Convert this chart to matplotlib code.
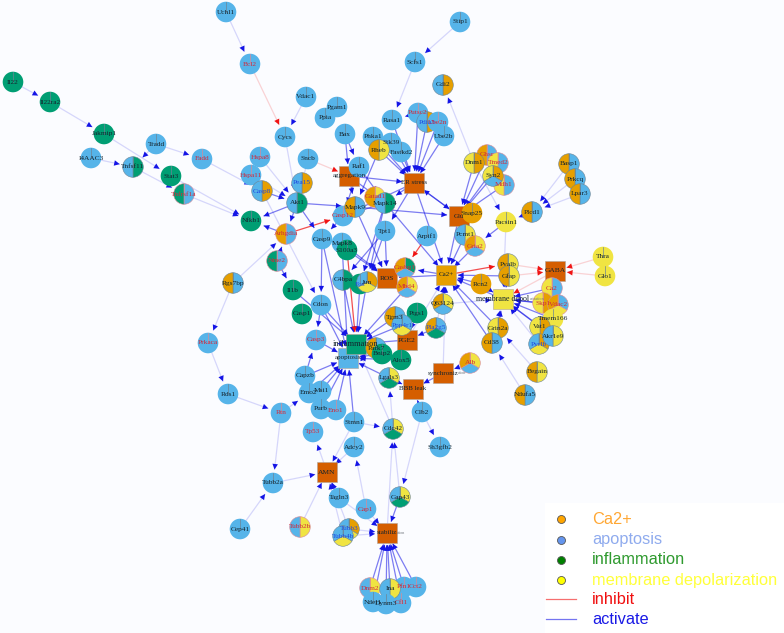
import matplotlib
matplotlib.use("Agg")
import matplotlib.pyplot as plt
import numpy as np
from matplotlib.patches import Wedge, Rectangle

## Data ##

# gene nodes, drawn in this order (picture pixels)
gene_pos = {
    "Uchl1": (226, 12), "Bcl2": (250, 64), "Il22": (13, 82), "Il22ra2": (50, 102),
    "Jakmip1": (104, 134), "Tradd": (156, 144), "Fadd": (202, 159), "I4AAC3": (91, 158),
    "Tnfsf11": (133, 167), "Stat3": (171, 176), "Tnfrsf1a": (184, 194), "Nfkb1": (251, 221),
    "Stip1": (460, 22), "Scfs1": (415, 62), "Gdi2": (443, 85), "Vdac1": (306, 97),
    "Pgam1": (337, 107), "Ppia": (325, 118), "Bax": (345, 134), "Cycs": (285, 137),
    "Sncb": (308, 159), "Hspa8": (260, 157), "Hspa11": (251, 175), "Casp8": (262, 191),
    "Pea15": (302, 183), "Akt1": (297, 203), "Arhgdia": (286, 234), "Rasa1": (392, 120),
    "Putsc2": (418, 113), "Pdia3": (427, 122), "Ube2n": (438, 122), "Ube2b": (444, 136),
    "Phka1": (373, 137), "Stk39": (391, 143), "Fastkd2": (401, 152), "Rheb": (379, 150),
    "Raf1": (359, 167), "Casp12": (343, 216), "Gatad1": (375, 197), "Mapk14": (385, 203),
    "Mapk9": (355, 207), "Casp9": (322, 239), "Mapk8": (342, 243), "S100a3": (347, 250),
    "Tpt1": (385, 231), "Arpif1": (427, 236), "Ghsr": (487, 155), "Tmed2": (498, 163),
    "Dnm1": (474, 163), "Mdh1": (504, 185), "Syn2": (493, 176), "Snap25": (472, 213),
    "Pacsin1": (506, 222), "Plcd1": (532, 212), "Basp1": (569, 164), "Prkcq": (575, 179),
    "Lpar3": (580, 194), "Pcmt1": (465, 235), "Gria2": (475, 246), "Thra": (603, 257),
    "Glo1": (605, 276), "Pvalb": (508, 264), "Gfap": (509, 276), "Rcn2": (481, 284),
    "Q63124": (443, 304), "Ca2": (552, 288), "Skp1": (543, 303), "Vdac2": (558, 305),
    "Tmem166": (553, 319), "Vat1": (540, 327), "Pvrlb": (539, 344), "Akr1e9": (553, 336),
    "Grin2a": (498, 328), "Cd38": (492, 343), "Alb": (470, 363), "Begain": (537, 372),
    "Ndufa5": (525, 395), "Pla2g5": (436, 328), "C4bpa": (343, 280), "Fos": (360, 284),
    "Jun": (367, 282), "Casbg1": (405, 268), "Mbd4": (407, 287), "Ptgs1": (417, 313),
    "Tgm3": (395, 317), "Ppp4r1": (402, 325), "Nme2": (277, 261), "Rgs7bp": (233, 283),
    "Il1b": (293, 290), "Cdon": (321, 305), "Casp1": (302, 314), "Casp3": (316, 340),
    "Prkaca": (208, 343), "Rds1": (228, 394), "Rtn": (281, 413), "Capzb": (305, 376),
    "Emo2": (309, 393), "Eno1": (336, 410), "Purb": (321, 409), "Msi1": (321, 391),
    "Tp53": (313, 432), "Stmn1": (354, 422), "Adcy2": (354, 447), "Park7": (376, 348),
    "Bnip2": (382, 354), "Alox5": (401, 360), "Lgals3": (389, 378), "Clb2": (422, 412),
    "Cdc42": (393, 429), "Sh3gfb2": (440, 447), "Tubb2a": (273, 483), "Cep41": (240, 529),
    "Tubb2b": (300, 527), "Tagln3": (339, 498), "Cap1": (366, 509), "Gap43": (400, 497),
    "Tubb3": (349, 529), "Tubb4b": (343, 536), "Cct2": (416, 587), "Pfn1": (404, 587),
    "Dnm2": (370, 588), "Cfl1": (401, 603), "Ina": (390, 589), "Ndel1": (373, 602),
    "Dynm3": (386, 604),
}

# process nodes
process_pos = {
    "aggregation": (349, 176), "ER stress": (414, 183), "Glu": (459, 216), "Ca2+": (446, 275),
    "ROS": (387, 278), "membrane depol": (503, 299), "GABA": (555, 271), "PGE2": (407, 340),
    "apoptosis": (348, 358), "inflammation": (356, 344), "synchroniz": (443, 373),
    "BBB leak": (413, 389), "AMN": (327, 472), "stabiliz": (387, 533),
}
process_part = {"Ca2+": "o", "membrane depol": "y", "apoptosis": "b", "inflammation": "g"}
process_tail = {"membrane depol": "arization", "synchroniz": "ation", "stabiliz": "ation"}
process_font = {"membrane depol": 5.8, "inflammation": 6.0, "AMN": 5.4, "ROS": 5.4, "PGE2": 5.4, "GABA": 5.4}

# pie parts clockwise from the top, plain apoptosis when not listed
gene_parts = {
    "Il22": "g", "Il22ra2": "g", "Jakmip1": "g", "Stat3": "g", "Nfkb1": "g", "S100a3": "g",
    "Tnfsf11": "gb", "Tnfrsf1a": "bg", "Nme2": "bg", "Akt1": "gb", "Arhgdia": "bo",
    "Casp8": "ob", "Pea15": "ob", "Gdi2": "ob", "Rheb": "yo", "Gatad1": "yo", "Mapk14": "gb",
    "Mapk9": "bo", "Pdia3": "ob", "Dnm1": "oy", "Ghsr": "bo", "Tmed2": "by", "Syn2": "oby",
    "Mdh1": "by", "Snap25": "o", "Pacsin1": "y", "Plcd1": "bo", "Basp1": "bo", "Prkcq": "bo",
    "Lpar3": "bo", "Pcmt1": "yb", "Gria2": "ybo", "Thra": "y", "Glo1": "y", "Pvalb": "yo",
    "Gfap": "yo", "Rcn2": "o", "Q63124": "ybo", "Ca2": "by", "Skp1": "oy", "Vdac2": "byo",
    "Tmem166": "y", "Vat1": "oy", "Pvrlb": "oyb", "Akr1e9": "yb", "Grin2a": "oy", "Cd38": "bo",
    "Alb": "ybo", "Begain": "yo", "Ndufa5": "bo", "Pla2g5": "bgo", "C4bpa": "gb", "Fos": "g",
    "Jun": "oyb", "Casbg1": "gbo", "Mbd4": "ybo", "Ptgs1": "g", "Tgm3": "bo", "Ppp4r1": "byb",
    "Rgs7bp": "bo", "Il1b": "g", "Casp1": "g", "Park7": "bo", "Bnip2": "g", "Alox5": "g",
    "Lgals3": "ygb", "Cdc42": "ygb", "Tubb2b": "yb", "Gap43": "ygb", "Tubb3": "oyb",
    "Tubb4b": "byb", "Dnm2": "yb", "Ina": "yb",
}

red_labels = ["Bcl2", "Fadd", "Tnfrsf1a", "Hspa8", "Hspa11", "Arhgdia", "Putsc2", "Ube2n",
              "Casp12", "Gatad1", "Ghsr", "Tmed2", "Mdh1", "Gria2", "Ca2", "Skp1", "Vdac2",
              "Alb", "Casbg1", "Mbd4", "Nme2", "Casp3", "Prkaca", "Rtn", "Eno1", "Tp53",
              "Tubb2b", "Cap1", "Dnm2", "Pfn1", "Cfl1", "Cct2"]
blue_labels = ["Casp8", "Pea15", "Pdia3", "Pvrlb", "Fos", "Ppp4r1", "Pla2g5", "Tubb3", "Tubb4b"]

strong_edges = [
    ("Akt1", "Nfkb1"), ("Arhgdia", "Nfkb1"), ("Pea15", "Akt1"), ("Casp8", "Akt1"), ("Akt1", "Arhgdia"),
    ("Nme2", "Arhgdia"), ("Nme2", "Il1b"), ("Il1b", "inflammation"), ("Cdon", "inflammation"),
    ("Casp9", "Cdon"), ("Casp12", "Casp9"), ("Akt1", "Casp9"), ("Akt1", "Mapk9"), ("Casp9", "apoptosis"),
    ("Mapk8", "apoptosis"), ("Mapk9", "Casp12"), ("Mapk14", "Casp12"), ("Mapk9", "Glu"),
    ("Bax", "aggregation"), ("Raf1", "aggregation"), ("Bax", "Raf1"), ("Phka1", "ER stress"),
    ("Stk39", "ER stress"), ("Fastkd2", "ER stress"), ("Rasa1", "ER stress"), ("Rheb", "ER stress"),
    ("Putsc2", "ER stress"), ("Pdia3", "ER stress"), ("Ube2n", "ER stress"), ("Ube2b", "ER stress"),
    ("Raf1", "Mapk14"), ("aggregation", "ER stress"), ("aggregation", "Mapk14"), ("aggregation", "Mapk9"),
    ("ER stress", "Glu"), ("Glu", "ER stress"), ("ER stress", "Tpt1"), ("ER stress", "Mapk14"),
    ("ER stress", "Casp12"), ("Rheb", "Mapk9"), ("Raf1", "Casp12"), ("Tpt1", "Jun"), ("Tpt1", "C4bpa"),
    ("S100a3", "ROS"), ("Ca2+", "ROS"), ("Ca2+", "Casbg1"), ("Glu", "Ca2+"), ("Gria2", "Ca2+"),
    ("Pcmt1", "Ca2+"), ("Gria2", "Glu"), ("Dnm1", "Glu"), ("Ghsr", "Glu"), ("Tmed2", "Glu"),
    ("Syn2", "Glu"), ("Mdh1", "Glu"), ("Snap25", "Glu"), ("Pacsin1", "Gria2"), ("membrane depol", "Ca2+"),
    ("Cd38", "Ca2+"), ("Grin2a", "Ca2+"), ("Grin2a", "membrane depol"), ("Rcn2", "Ca2+"),
    ("Rcn2", "membrane depol"), ("Gfap", "membrane depol"), ("Gfap", "Ca2+"), ("Pvalb", "membrane depol"),
    ("Ca2", "membrane depol"), ("Skp1", "membrane depol"), ("Vdac2", "membrane depol"),
    ("Tmem166", "membrane depol"), ("Vat1", "membrane depol"), ("Akr1e9", "membrane depol"),
    ("Q63124", "Ca2+"), ("Ptgs1", "PGE2"), ("Tgm3", "inflammation"), ("Ppp4r1", "inflammation"),
    ("Pla2g5", "PGE2"), ("Mbd4", "inflammation"), ("Jun", "inflammation"), ("Fos", "inflammation"),
    ("C4bpa", "inflammation"), ("Mapk8", "ROS"), ("ROS", "Casbg1"), ("Mapk14", "Fos"), ("Mapk14", "Jun"),
    ("Cdon", "apoptosis"), ("Casp3", "apoptosis"), ("Capzb", "apoptosis"), ("Emo2", "apoptosis"),
    ("Msi1", "apoptosis"), ("Purb", "apoptosis"), ("Eno1", "apoptosis"), ("Stmn1", "apoptosis"),
    ("Park7", "apoptosis"), ("Bnip2", "apoptosis"), ("Alox5", "apoptosis"), ("Lgals3", "apoptosis"),
    ("Lgals3", "BBB leak"), ("synchroniz", "BBB leak"), ("Clb2", "BBB leak"), ("Alox5", "Lgals3"),
    ("Capzb", "Casp3"), ("PGE2", "inflammation"), ("Cdon", "Casp3"), ("Tagln3", "AMN"),
    ("Cct2", "stabiliz"), ("Pfn1", "stabiliz"), ("Cfl1", "stabiliz"), ("Ina", "stabiliz"),
    ("Dnm2", "stabiliz"), ("Ndel1", "stabiliz"), ("Dynm3", "stabiliz"), ("Gap43", "stabiliz"),
    ("Mapk14", "Ca2+"), ("Tpt1", "ROS"), ("Mapk9", "ROS"), ("ER stress", "Ca2+"),
]

faint_edges = [
    ("Uchl1", "Bcl2"), ("Il22", "Il22ra2"), ("Il22ra2", "Jakmip1"), ("Jakmip1", "Stat3"),
    ("Tradd", "Tnfsf11"), ("Tradd", "Fadd"), ("I4AAC3", "Tnfsf11"), ("Tnfsf11", "Tnfrsf1a"),
    ("Stat3", "Nfkb1"), ("Tnfrsf1a", "Nfkb1"), ("Fadd", "Casp8"), ("Hspa8", "Akt1"), ("Hspa11", "Akt1"),
    ("Vdac1", "Cycs"), ("Cycs", "Akt1"), ("Pgam1", "Ppia"), ("Rgs7bp", "Arhgdia"), ("Rgs7bp", "Prkaca"),
    ("Prkaca", "Rds1"), ("Rds1", "Rtn"), ("Rtn", "Emo2"), ("Rtn", "Tubb2a"), ("Stip1", "Scfs1"),
    ("Scfs1", "Rasa1"), ("Putsc2", "Rasa1"), ("Dnm1", "Gdi2"), ("Dnm1", "Pacsin1"), ("Plcd1", "Pacsin1"),
    ("Basp1", "Plcd1"), ("Prkcq", "Plcd1"), ("Lpar3", "Plcd1"), ("Pacsin1", "membrane depol"),
    ("Cd38", "membrane depol"), ("Begain", "Grin2a"), ("Ndufa5", "Cd38"), ("Q63124", "membrane depol"),
    ("Alb", "synchroniz"), ("synchroniz", "Ca2+"), ("Pvrlb", "membrane depol"), ("Clb2", "Sh3gfb2"),
    ("Clb2", "Gap43"), ("Cdc42", "inflammation"), ("Cdc42", "Lgals3"), ("Tubb2a", "AMN"),
    ("Cep41", "Tubb2a"), ("Tubb2b", "AMN"), ("Adcy2", "AMN"), ("Stmn1", "AMN"), ("AMN", "Tp53"),
    ("Cap1", "Adcy2"), ("Cap1", "stabiliz"), ("Tagln3", "stabiliz"), ("Tubb3", "stabiliz"),
    ("Tubb4b", "stabiliz"), ("Tubb3", "AMN"), ("Tubb4b", "AMN"), ("Gap43", "Cdc42"),
    ("stabiliz", "Cdc42"), ("Stmn1", "Cdc42"), ("Casp8", "Cdon"), ("Sncb", "Akt1"),
    ("Pla2g5", "Ca2+"), ("PGE2", "Ca2+"),
]

inhibit_strong = [("Arhgdia", "Casp12"), ("Arpif1", "Casbg1"), ("Ca2+", "Pvalb"), ("S100a3", "inflammation")]
inhibit_faint = [("Bcl2", "Cycs"), ("Sncb", "aggregation"), ("Thra", "GABA"), ("Glo1", "GABA"),
                 ("Pvalb", "GABA"), ("Gfap", "GABA"), ("Ca2", "GABA"), ("GABA", "membrane depol")]

legend_labels = ["Ca2+", "apoptosis", "inflammation", "membrane depolarization"]
legend_dots = ["#ffa500", "#6495ed", "#008000", "#ffff00"]
legend_text = ["#ffa733", "#8fabee", "#2f9a2f", "#ffff3a"]

## Style ##

PART_COLORS = {"b": "#56B4E9", "o": "#E69F00", "g": "#009E73", "y": "#F0E442"}
SQUARE_COLOR = "#D55E00"
RADIUS = 10.3
BLUE = "#1414e6"
RED = "#f01414"
LABEL_COLORS = {"k": "#14242e", "r": "#d02a3c", "u": "#1f4ae0"}

## Drawing ##

def position(name):
    return np.array(gene_pos.get(name, process_pos.get(name)), dtype=float)

def draw_edge(ax, src, dst, color, alpha, lw):
    a, b = position(src), position(dst)
    d = (b - a) / np.linalg.norm(b - a)
    gap = 12.0 if dst in process_pos else 13.5
    tip = b - d * gap
    ax.plot([a[0], tip[0]], [a[1], tip[1]], color=color, alpha=alpha, lw=lw, zorder=1, solid_capstyle="butt")
    ax.annotate("", xy=tip, xytext=tip - d * 5,
                arrowprops=dict(arrowstyle="-|>,head_length=0.45,head_width=0.22", color=color,
                                lw=0, shrinkA=0, shrinkB=0, mutation_scale=9), zorder=2)

def draw_gene(ax, name, z):
    x, y = gene_pos[name]
    parts = gene_parts.get(name, "b")
    step = 360.0 / len(parts)
    ring = "#d88a98" if name in red_labels else "#6d8494"
    # inverted y axis, so the angles run clockwise on screen
    for i, p in enumerate(parts):
        ax.add_patch(Wedge((x, y), RADIUS, -90 + i * step, -90 + (i + 1) * step, facecolor=PART_COLORS[p],
                           edgecolor=ring if len(parts) > 1 else "none", lw=0.4, zorder=z))
    ax.plot([x, x], [y, y - RADIUS], color=ring, lw=0.5, zorder=z + 0.1)

plt.rcParams["font.family"] = ["Liberation Serif", "DejaVu Serif"]

fig = plt.figure(figsize=(7.84, 6.33), dpi=100, facecolor="#fbfcff")
ax = fig.add_axes([0, 0, 1, 1])
ax.set_xlim(0, 784)
ax.set_ylim(633, 0)
ax.axis("off")

for s, t in faint_edges:
    draw_edge(ax, s, t, BLUE, 0.16, 0.9)
for s, t in strong_edges:
    draw_edge(ax, s, t, BLUE, 0.55, 0.9)
for s, t in inhibit_faint:
    draw_edge(ax, s, t, RED, 0.18, 0.9)
for s, t in inhibit_strong:
    draw_edge(ax, s, t, RED, 0.75, 0.9)

for i, name in enumerate(process_pos):
    x, y = process_pos[name]
    face = PART_COLORS.get(process_part.get(name), SQUARE_COLOR)
    ax.add_patch(Rectangle((x - 10.3, y - 10.3), 20.6, 20.6, facecolor=face, edgecolor="#b0a49a", lw=0.4, zorder=3 + i * 0.01))

for i, name in enumerate(gene_pos):
    draw_gene(ax, name, 4 + i * 0.01)

for name, (x, y) in gene_pos.items():
    key = "r" if name in red_labels else "u" if name in blue_labels else "k"
    ax.text(x, y, name, fontsize=5.3, color=LABEL_COLORS[key], ha="center", va="center", zorder=8)

for name, (x, y) in process_pos.items():
    t = ax.text(x, y, name, fontsize=process_font.get(name, 5.0), color="#14242e", ha="center", va="center", zorder=8)
    if name in process_tail:
        bb = t.get_window_extent(fig.canvas.get_renderer())
        ax.text(bb.x1, y, process_tail[name], fontsize=3, color="#70767c", ha="left", va="center", zorder=8)

# legend
ax.add_patch(Rectangle((545, 503), 239, 130, facecolor="white", edgecolor="none", zorder=9))
legend_rows = [519, 539.5, 560, 580, 600, 620]
for y, label, dot, col in zip(legend_rows, legend_labels, legend_dots, legend_text):
    ax.scatter([561], [y], s=33, color=dot, edgecolor="#555555", lw=0.6, zorder=10)
    ax.text(592, y, label, fontsize=11.8, color=col, family="Liberation Sans", ha="left", va="center", zorder=10)
for y, label, col in zip(legend_rows[4:], ["inhibit", "activate"], ["#f01010", "#1a1ae6"]):
    ax.plot([546, 576], [y - 1, y - 1], color=col, alpha=0.6, lw=0.9, zorder=10)
    ax.text(592, y, label, fontsize=11.8, color=col, family="Liberation Sans", ha="left", va="center", zorder=10)

fig.savefig("out.png", dpi=100, facecolor=fig.get_facecolor())
